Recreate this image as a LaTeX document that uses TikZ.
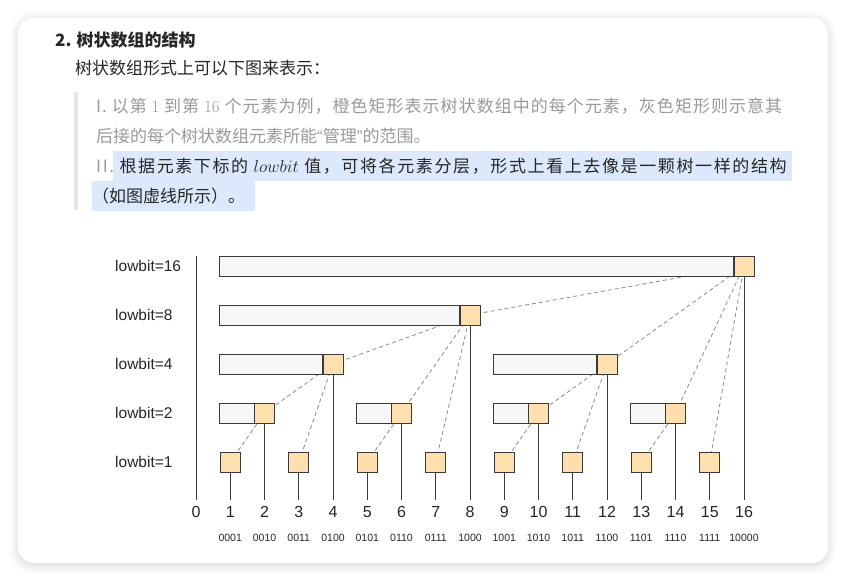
\documentclass[tikz,border=0pt]{standalone}
\usepackage{fontspec}
\newfontfamily\hei{Noto Sans CJK SC}
\newfontfamily\helv{Liberation Sans}
\usetikzlibrary{shadows.blur}

\begin{document}
\begin{tikzpicture}[x=1pt,y=-1pt]

% Colori
\definecolor{colCell}{HTML}{FFDFAE}
\definecolor{colRange}{HTML}{F7F7F7}
\definecolor{colEdge}{HTML}{3A3A3A}
\definecolor{colDash}{HTML}{8C8C8C}
\definecolor{colMark}{HTML}{DCE8FB}
\definecolor{colBar}{HTML}{E6E6E6}
\definecolor{colGrey}{HTML}{9A9A9A}
\definecolor{colInk}{HTML}{262626}

\tikzset{
  cellbox/.style={draw=colEdge, fill=colCell, line width=0.9pt, minimum size=20pt, inner sep=0pt},
  spanbox/.style={draw=colEdge, fill=colRange, line width=0.9pt, minimum height=20pt, inner sep=0pt},
  tie/.style={draw=colDash, dashed, dash pattern=on 4pt off 3pt, line width=0.8pt},
  stem/.style={draw=colEdge, line width=1pt},
  levelname/.style={font=\helv\fontsize{15.5}{18}\selectfont, text=colInk, anchor=west, inner sep=0pt},
  idx/.style={font=\helv\fontsize{16}{18}\selectfont, text=colInk, inner sep=0pt},
  bincode/.style={font=\helv\fontsize{10.5}{12}\selectfont, text=colInk, inner sep=0pt},
  textline/.style={anchor=west, inner sep=0pt, font=\hei\fontsize{17}{20}\selectfont}
}

\useasboundingbox (0,0) rectangle (846,581);

% Scheda
\fill[white, rounded corners=16pt, blur shadow={shadow xshift=0pt, shadow yshift=-2pt,
  shadow blur radius=9pt, shadow opacity=18}] (18,18) rectangle (828,563);

% Testo
\node[textline, text=colInk] (title) at (55,40) {\bfseries 2. 树状数组的结构};
\node[textline, text=colInk] (intro) at (75,68) {树状数组形式上可以下图来表示：};

\fill[colBar] (74,92) rectangle (78,210);
\fill[colMark] (113,151) rectangle (792,181);
\fill[colMark] (92,181) rectangle (255,211);

% righe giustificate: spaziatura tra i caratteri
\node[textline, text=colGrey] (p1) at (96,106) {\addfontfeature{LetterSpace=6}I. 以第 {\rmfamily 1} 到第 {\rmfamily 16} 个元素为例，橙色矩形表示树状数组中的每个元素，灰色矩形则示意其};
\node[textline, text=colGrey] (p2) at (96,136) {后接的每个树状数组元素所能{\helv “}管理{\helv ”}的范围。};
\node[textline, text=colInk] (p3) at (96,166) {\addfontfeature{LetterSpace=9.5}\textcolor{colGrey}{II.} 根据元素下标的 $lowbit$ 值，可将各元素分层，形式上看上去像是一颗树一样的结构};
\node[textline, text=colInk] (p4) at (92,196) {（如图虚线所示）。};

% Livelli
\foreach \lb/\r in {16/4,8/3,4/2,2/1,1/0}
  \node[levelname] (lv\lb) at (115,{462-49*\r}) {lowbit=\lb};

% Centri delle celle
\foreach \i/\lb/\r in {1/1/0,2/2/1,3/1/0,4/4/2,5/1/0,6/2/1,7/1/0,8/8/3,
                       9/1/0,10/2/1,11/1/0,12/4/2,13/1/0,14/2/1,15/1/0,16/16/4} {
  \coordinate (c\i) at ({196+34.25*\i},{462-49*\r});
  \coordinate (e\i) at ({196+34.25*\i},500);
}
\coordinate (c0) at (196,256);
\coordinate (e0) at (196,500);

% Archi tratteggiati (padre = i + lowbit(i))
\foreach \a/\b in {1/2,2/4,3/4,4/8,5/6,6/8,7/8,8/16,9/10,10/12,11/12,12/16,13/14,14/16,15/16}
  \draw[tie] (c\a) -- (c\b);

% Aste verticali
\draw[stem] (c0) -- (e0);
\foreach \i in {1,...,16}
  \draw[stem] (c\i) -- (e\i);

% Intervalli e celle
\foreach \i/\lb in {1/1,2/2,3/1,4/4,5/1,6/2,7/1,8/8,9/1,10/2,11/1,12/4,13/1,14/2,15/1,16/16} {
  \ifnum\lb>1
    \pgfmathsetmacro\w{34.25*(\lb-1)}
    \node[spanbox, minimum width=\w pt, anchor=east] (g\i) at ([xshift=-10pt]c\i) {};
  \fi
  \node[cellbox] (b\i) at (c\i) {};
}

% Indici e binari
\node[idx] (n0) at (196,512) {0};
\foreach \i/\bits in {1/0001,2/0010,3/0011,4/0100,5/0101,6/0110,7/0111,8/1000,
                      9/1001,10/1010,11/1011,12/1100,13/1101,14/1110,15/1111,16/10000} {
  \node[idx] (n\i) at ({196+34.25*\i},512) {\i};
  \node[bincode] (t\i) at ({196+34.25*\i},538) {\bits};
}

\end{tikzpicture}
\end{document}
